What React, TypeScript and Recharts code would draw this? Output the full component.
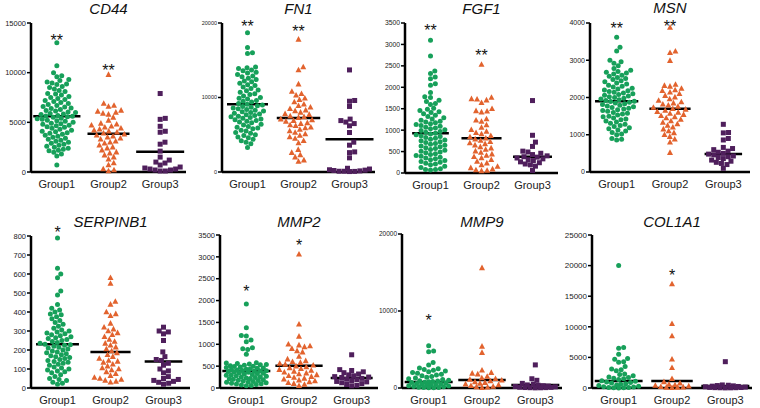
import React from "react";
import { ScatterChart, Scatter, XAxis, YAxis, ReferenceLine, ReferenceDot } from "recharts";

const GROUPS = ["Group1", "Group2", "Group3"];
const COLORS = ["#17a05a", "#e2632e", "#4f1f5c"];
const FONT = "'Liberation Sans', Arial, sans-serif";

// values, one array per gene and group
const CD44_G1 = [13000, 10700, 9980, 9700, 9600, 9300, 9200, 9050, 8950, 8850, 8800, 8600, 8500, 8350, 8200, 8100, 7900, 7850, 7750, 7600, 7500, 7400, 7300, 7200, 7100, 7000, 6900, 6800, 6700, 6600, 6550, 6450, 6400, 6300, 6200, 6150, 6050, 6000, 5900, 5850, 5800, 5700, 5650, 5600, 5550, 5500, 5400, 5350, 5300, 5200, 5150, 5100, 5000, 4900, 4850, 4800, 4700, 4650, 4550, 4500, 4400, 4300, 4200, 4100, 4050, 3950, 3900, 3800, 3700, 3600, 3500, 3400, 3300, 3200, 3100, 3000, 2900, 2800, 2700, 2600, 2500, 2400, 2300, 2200, 2150, 2000, 1800, 1600, 700];
const CD44_G2 = [9800, 6900, 6700, 6600, 6200, 6100, 6000, 5900, 5800, 5500, 5200, 4900, 4800, 4700, 4600, 4500, 4400, 4300, 4200, 4100, 4000, 3900, 3800, 3700, 3600, 3500, 3400, 3300, 3100, 3000, 2900, 2700, 2500, 2400, 2200, 2000, 1900, 1700, 1500, 1300, 900, 700, 300, 200, 100];
const CD44_G3 = [7900, 5400, 5300, 4600, 4100, 4000, 3000, 2800, 2100, 1500, 1200, 1000, 900, 700, 500, 400, 300, 300, 200, 200, 100, 100];
const CD44_MED = [5600, 3850, 2050];
const CD44_STARS = [13600, 10600, 0];

const FN1_G1 = [18700, 16700, 16000, 15900, 14100, 14000, 13900, 13700, 13600, 13400, 13300, 13100, 12900, 12800, 12600, 12400, 12200, 12100, 11900, 11700, 11600, 11400, 11200, 11000, 10900, 10700, 10500, 10400, 10200, 10000, 9900, 9800, 9600, 9500, 9400, 9200, 9100, 9000, 8900, 8800, 8700, 8600, 8500, 8400, 8300, 8200, 8100, 8000, 7900, 7800, 7700, 7600, 7500, 7400, 7300, 7200, 7100, 7000, 6900, 6800, 6700, 6600, 6400, 6300, 6100, 6000, 5900, 5800, 5600, 5500, 5300, 5200, 5000, 4900, 4700, 4600, 4400, 4200, 4000, 3800, 3300];
const FN1_G2 = [17800, 14100, 13700, 11800, 10800, 10500, 10300, 9900, 9700, 9400, 9100, 8900, 8700, 8500, 8300, 8200, 8000, 7800, 7700, 7500, 7400, 7300, 7100, 7000, 6900, 6800, 6600, 6500, 6300, 6200, 6000, 5900, 5700, 5500, 5300, 5100, 4900, 4700, 4500, 4200, 3900, 3000, 2600, 2300, 2000, 1600, 1400];
const FN1_G3 = [13700, 9600, 9500, 8800, 7100, 6900, 6700, 6500, 6200, 5300, 4000, 3600, 2700, 2600, 1900, 500, 400, 300, 250, 200, 150, 100, 100, 80, 60];
const FN1_MED = [9100, 7250, 4400];
const FN1_STARS = [20000, 19300, 0];

const FGF1_G1 = [3100, 2730, 2380, 2320, 2240, 2200, 2080, 2050, 1880, 1780, 1760, 1700, 1670, 1620, 1600, 1510, 1490, 1460, 1430, 1410, 1380, 1350, 1320, 1290, 1260, 1230, 1210, 1190, 1170, 1150, 1130, 1110, 1090, 1070, 1050, 1030, 1010, 990, 970, 950, 930, 910, 890, 870, 850, 830, 810, 790, 770, 750, 730, 710, 690, 670, 650, 630, 610, 590, 570, 550, 530, 510, 490, 470, 450, 430, 410, 390, 370, 350, 330, 310, 290, 270, 250, 230, 210, 190, 160, 130, 100, 80, 80, 70];
const FGF1_G2 = [2530, 1760, 1730, 1720, 1700, 1640, 1500, 1450, 1440, 1420, 1260, 1230, 1200, 1120, 1060, 1010, 970, 940, 910, 870, 840, 810, 790, 760, 730, 700, 680, 650, 610, 580, 550, 510, 480, 440, 410, 380, 350, 310, 270, 230, 190, 150, 120, 90, 70, 60, 50];
const FGF1_G3 = [1690, 880, 720, 620, 510, 490, 460, 430, 400, 380, 370, 350, 330, 310, 290, 260, 240, 210, 190, 160, 60];
const FGF1_MED = [930, 810, 380];
const FGF1_STARS = [3400, 2820, 0];

const MSN_G1 = [3620, 3350, 3250, 3000, 2960, 2920, 2850, 2780, 2730, 2700, 2680, 2660, 2630, 2600, 2570, 2540, 2510, 2480, 2450, 2420, 2390, 2360, 2330, 2300, 2280, 2250, 2230, 2200, 2180, 2160, 2140, 2120, 2100, 2080, 2060, 2040, 2020, 2000, 1980, 1960, 1940, 1920, 1900, 1890, 1870, 1850, 1830, 1810, 1790, 1770, 1750, 1730, 1710, 1690, 1670, 1650, 1630, 1600, 1580, 1560, 1530, 1500, 1480, 1450, 1420, 1400, 1370, 1340, 1310, 1280, 1250, 1220, 1190, 1160, 1130, 1100, 1060, 1020, 1000, 900, 880, 860];
const MSN_G2 = [3880, 3240, 3200, 2990, 2350, 2320, 2300, 2240, 2200, 2180, 2140, 2100, 2050, 2010, 1960, 1920, 1880, 1850, 1820, 1790, 1760, 1730, 1700, 1680, 1650, 1620, 1600, 1570, 1540, 1510, 1480, 1450, 1410, 1370, 1330, 1290, 1250, 1200, 1150, 1100, 1050, 1000, 950, 880, 800, 520];
const MSN_G3 = [1280, 1060, 1050, 900, 860, 660, 630, 600, 560, 530, 500, 480, 460, 430, 410, 390, 360, 320, 290, 260, 230, 200, 100];
const MSN_MED = [1900, 1700, 480];
const MSN_STARS = [3950, 3990, 0];

const SERPINB1_G1 = [790, 630, 600, 580, 510, 490, 440, 420, 410, 400, 390, 385, 375, 365, 355, 345, 335, 325, 315, 305, 300, 295, 290, 285, 280, 275, 270, 265, 260, 255, 250, 245, 240, 235, 230, 228, 225, 220, 215, 210, 205, 200, 195, 190, 185, 180, 175, 170, 165, 160, 155, 150, 145, 140, 135, 130, 125, 120, 110, 105, 100, 95, 90, 85, 80, 70, 60, 50, 45, 40, 30, 25, 20];
const SERPINB1_G2 = [580, 550, 455, 440, 400, 390, 380, 340, 320, 310, 300, 290, 280, 270, 255, 245, 235, 225, 215, 205, 195, 185, 175, 165, 155, 145, 140, 135, 125, 115, 105, 100, 95, 85, 75, 65, 55, 50, 45, 40, 35, 30];
const SERPINB1_G3 = [320, 300, 295, 285, 250, 190, 165, 150, 145, 130, 120, 100, 90, 80, 60, 50, 45, 40, 35, 30, 25, 20];
const SERPINB1_MED = [230, 190, 140];
const SERPINB1_STARS = [837, 0, 0];

const MMP2_G1 = [1920, 1380, 1200, 1190, 1100, 1060, 920, 900, 880, 770, 580, 570, 560, 550, 540, 530, 520, 510, 500, 490, 480, 470, 460, 450, 440, 430, 420, 410, 400, 395, 390, 385, 380, 370, 360, 350, 340, 330, 320, 310, 300, 290, 280, 270, 260, 250, 240, 230, 220, 210, 200, 190, 180, 170, 160, 150, 140, 130, 120, 110, 100, 90, 80, 70, 60, 50];
const MMP2_G2 = [3060, 1460, 1180, 1000, 980, 960, 940, 900, 850, 820, 720, 660, 620, 600, 580, 560, 540, 520, 500, 480, 460, 440, 420, 400, 380, 360, 340, 320, 300, 280, 260, 240, 220, 200, 180, 160, 140, 120, 100, 80, 50];
const MMP2_G3 = [760, 420, 400, 370, 350, 320, 300, 280, 260, 250, 240, 220, 200, 190, 170, 150, 140, 120, 100, 80, 60, 50];
const MMP2_MED = [390, 510, 230];
const MMP2_STARS = [2290, 3340, 0];

const MMP9_G1 = [5500, 4800, 4700, 3300, 3000, 2600, 2500, 2400, 2300, 2200, 2100, 2000, 1900, 1800, 1700, 1600, 1500, 1400, 1300, 1200, 1100, 1000, 950, 900, 850, 800, 750, 700, 650, 600, 550, 500, 450, 400, 350, 300, 250, 200, 150, 100, 80, 60, 40, 20];
const MMP9_G2 = [15600, 5400, 4600, 2300, 2000, 1900, 1800, 1500, 1300, 1200, 1100, 1000, 900, 800, 700, 600, 500, 400, 300, 200, 150, 100, 50];
const MMP9_G3 = [3000, 1200, 1000, 600, 500, 400, 350, 300, 250, 200, 150, 100, 80, 60, 50, 40, 30, 20];
const MMP9_MED = [780, 1040, 390];
const MMP9_STARS = [9220, 0, 0];

const COL1A1_G1 = [20000, 6600, 6500, 5500, 4800, 4700, 4300, 4200, 3500, 3100, 3000, 2800, 2300, 2200, 2000, 1800, 1700, 1600, 1500, 1400, 1200, 1100, 1000, 900, 800, 700, 600, 500, 400, 300, 200, 150, 100, 80, 60, 40, 20];
const COL1A1_G2 = [17000, 10500, 8500, 4700, 3300, 1500, 1000, 800, 600, 500, 400, 300, 200, 150, 100, 80, 50];
const COL1A1_G3 = [4300, 500, 450, 400, 350, 300, 250, 200, 150, 100, 80, 60, 50, 40, 30, 20];
const COL1A1_MED = [1140, 1140, 330];
const COL1A1_STARS = [0, 18950, 0];

const PANELS = [
  { title: "CD44", yMax: 15000, ticks: [0, 5000, 10000, 15000], groups: [CD44_G1, CD44_G2, CD44_G3], med: CD44_MED, stars: CD44_STARS, mark: "**" },
  { title: "FN1", yMax: 20000, ticks: [0, 10000, 20000], groups: [FN1_G1, FN1_G2, FN1_G3], med: FN1_MED, stars: FN1_STARS, mark: "**" },
  { title: "FGF1", yMax: 3500, ticks: [0, 500, 1000, 1500, 2000, 2500, 3000, 3500], groups: [FGF1_G1, FGF1_G2, FGF1_G3], med: FGF1_MED, stars: FGF1_STARS, mark: "**" },
  { title: "MSN", yMax: 4000, ticks: [0, 1000, 2000, 3000, 4000], groups: [MSN_G1, MSN_G2, MSN_G3], med: MSN_MED, stars: MSN_STARS, mark: "**" },
  { title: "SERPINB1", yMax: 800, ticks: [0, 100, 200, 300, 400, 500, 600, 700, 800], groups: [SERPINB1_G1, SERPINB1_G2, SERPINB1_G3], med: SERPINB1_MED, stars: SERPINB1_STARS, mark: "*" },
  { title: "MMP2", yMax: 3500, ticks: [0, 500, 1000, 1500, 2000, 2500, 3000, 3500], groups: [MMP2_G1, MMP2_G2, MMP2_G3], med: MMP2_MED, stars: MMP2_STARS, mark: "*" },
  { title: "MMP9", yMax: 20000, ticks: [0, 10000, 20000], groups: [MMP9_G1, MMP9_G2, MMP9_G3], med: MMP9_MED, stars: MMP9_STARS, mark: "*" },
  { title: "COL1A1", yMax: 25000, ticks: [0, 5000, 10000, 15000, 20000, 25000], groups: [COL1A1_G1, COL1A1_G2, COL1A1_G3], med: COL1A1_MED, stars: COL1A1_STARS, mark: "*" },
];

// where each panel sits on the page
const BOXES = [
  { axisX: 31, axisEnd: 186, top: 0, height: 200, plotTop: 23, plotBottom: 172, titleY: 9, yFont: 7.5 },
  { axisX: 222, axisEnd: 375, top: 0, height: 200, plotTop: 23, plotBottom: 172, titleY: 9, yFont: 5.5 },
  { axisX: 405, axisEnd: 558, top: 0, height: 200, plotTop: 23, plotBottom: 173, titleY: 9, yFont: 6.8 },
  { axisX: 590, axisEnd: 750, top: 0, height: 200, plotTop: 23, plotBottom: 172, titleY: 8, yFont: 7 },
  { axisX: 31, axisEnd: 190, top: 205, height: 203, plotTop: 236, plotBottom: 388, titleY: 222, yFont: 7.5 },
  { axisX: 220, axisEnd: 378, top: 205, height: 203, plotTop: 235, plotBottom: 388, titleY: 222, yFont: 7.5 },
  { axisX: 402, axisEnd: 562, top: 205, height: 203, plotTop: 234, plotBottom: 388, titleY: 222, yFont: 6.5 },
  { axisX: 592, axisEnd: 752, top: 205, height: 203, plotTop: 235, plotBottom: 388, titleY: 222, yFont: 8 },
];

const DOT = [5, 5.6, 5.2];
const MAX_HALF = 20;

// simple beeswarm: x offsets in px so markers don't overlap
function swarm(values: number[], yMax: number, hPx: number, d: number): number[] {
  const order = values.map((_, i) => i).sort((a, b) => values[a] - values[b]);
  const placed: { x: number; y: number }[] = [];
  const out = new Array(values.length).fill(0);
  for (const i of order) {
    const y = (values[i] / yMax) * hPx;
    const near = placed.filter((p) => Math.abs(p.y - y) < d);
    const cands = [0];
    near.forEach((p) => {
      const dx = Math.sqrt(d * d - (p.y - y) ** 2);
      cands.push(p.x + dx + 0.01, p.x - dx - 0.01);
    });
    cands.sort((a, b) => Math.abs(a) - Math.abs(b));
    let best = NaN;
    for (const c of cands) {
      if (Math.abs(c) > MAX_HALF) break;
      if (near.every((p) => (p.x - c) ** 2 + (p.y - y) ** 2 >= d * d - 0.1)) {
        best = c;
        break;
      }
    }
    if (isNaN(best)) {
      let score = -1;
      for (let c = -MAX_HALF; c <= MAX_HALF; c += 1) {
        const s = Math.min(...near.map((p) => Math.hypot(p.x - c, p.y - y)));
        if (s > score) {
          score = s;
          best = c;
        }
      }
    }
    placed.push({ x: best, y });
    out[i] = best;
  }
  return out;
}

const markShape = (g: number) => (p: any) => {
  const { cx, cy } = p;
  if (g === 0) return <circle cx={cx} cy={cy} r={2.5} fill={COLORS[0]} />;
  if (g === 1)
    return <polygon points={`${cx},${cy - 3.3} ${cx + 3},${cy + 2.3} ${cx - 3},${cy + 2.3}`} fill={COLORS[1]} />;
  return <rect x={cx - 2.5} y={cy - 2.5} width={5} height={5} fill={COLORS[2]} />;
};

function Panel({ spec, box }: { spec: (typeof PANELS)[number]; box: (typeof BOXES)[number] }) {
  const plotW = box.axisEnd - box.axisX;
  const plotH = box.plotBottom - box.plotTop;
  const pxPerUnit = plotW / 3;
  const left = box.axisX - 40;
  const width = box.axisEnd - left + 2;
  const xAxisH = box.top === 0 ? 20 : 18;
  const marginTop = box.plotTop - box.top;
  const marginBottom = box.height - marginTop - plotH - xAxisH;

  const series = spec.groups.map((vals, g) => {
    const offs = swarm(vals, spec.yMax, plotH, DOT[g]);
    const pts = vals.map((v, i) => ({ x: g + 0.5 + offs[i] / pxPerUnit, y: v }));
    const half = (Math.max(...offs.map(Math.abs)) + 4) / pxPerUnit;
    return { pts, half };
  });

  return (
    <div style={{ position: "absolute", left, top: box.top, width, height: box.height }}>
      <div
        style={{
          position: "absolute",
          left: 40,
          width: plotW,
          top: box.titleY - box.top - 8,
          height: 16,
          lineHeight: "16px",
          textAlign: "center",
          fontStyle: "italic",
          fontSize: 15,
          color: "#111",
          fontFamily: FONT,
        }}
      >
        {spec.title}
      </div>
      <ScatterChart width={width} height={box.height} margin={{ top: marginTop, right: 2, bottom: marginBottom, left: 0 }}>
        <XAxis
          type="number"
          dataKey="x"
          domain={[0, 3]}
          ticks={[0.5, 1.5, 2.5]}
          interval={0}
          tickFormatter={(v: number) => GROUPS[Math.floor(v)]}
          axisLine={{ stroke: "#000", strokeWidth: 2.5 }}
          tickLine={false}
          height={xAxisH}
          tick={{ fontSize: 11, fill: "#222", fontFamily: FONT }}
        />
        <YAxis
          type="number"
          dataKey="y"
          domain={[0, spec.yMax]}
          ticks={spec.ticks}
          interval={0}
          width={40}
          axisLine={{ stroke: "#000", strokeWidth: 2.5 }}
          tickLine={{ stroke: "#000", strokeWidth: 1.5 }}
          tickSize={4}
          tickMargin={1}
          tick={{ fontSize: box.yFont, fill: "#222", fontFamily: FONT }}
        />
        {series.map((s, g) => (
          <Scatter key={GROUPS[g]} data={s.pts} shape={markShape(g)} isAnimationActive={false} />
        ))}
        {series.map((s, g) => (
          <ReferenceLine
            key={`med-${g}`}
            segment={[
              { x: g + 0.5 - s.half, y: spec.med[g] },
              { x: g + 0.5 + s.half, y: spec.med[g] },
            ]}
            stroke="#000"
            strokeWidth={2.5}
          />
        ))}
        {spec.stars.map((y, g) =>
          y > 0 ? (
            <ReferenceDot
              key={`star-${g}`}
              x={g + 0.5}
              y={y}
              r={1}
              ifOverflow="visible"
              shape={(p: any) => (
                <text x={p.cx} y={p.cy + 9} textAnchor="middle" fontSize={16} fill="#111" fontFamily={FONT}>
                  {spec.mark}
                </text>
              )}
            />
          ) : null
        )}
      </ScatterChart>
    </div>
  );
}

export default function App() {
  return (
    <div style={{ position: "fixed", left: 0, top: 0, width: 760, height: 408, background: "#fff", overflow: "hidden" }}>
      {PANELS.map((p, i) => (
        <Panel key={p.title} spec={p} box={BOXES[i]} />
      ))}
    </div>
  );
}
